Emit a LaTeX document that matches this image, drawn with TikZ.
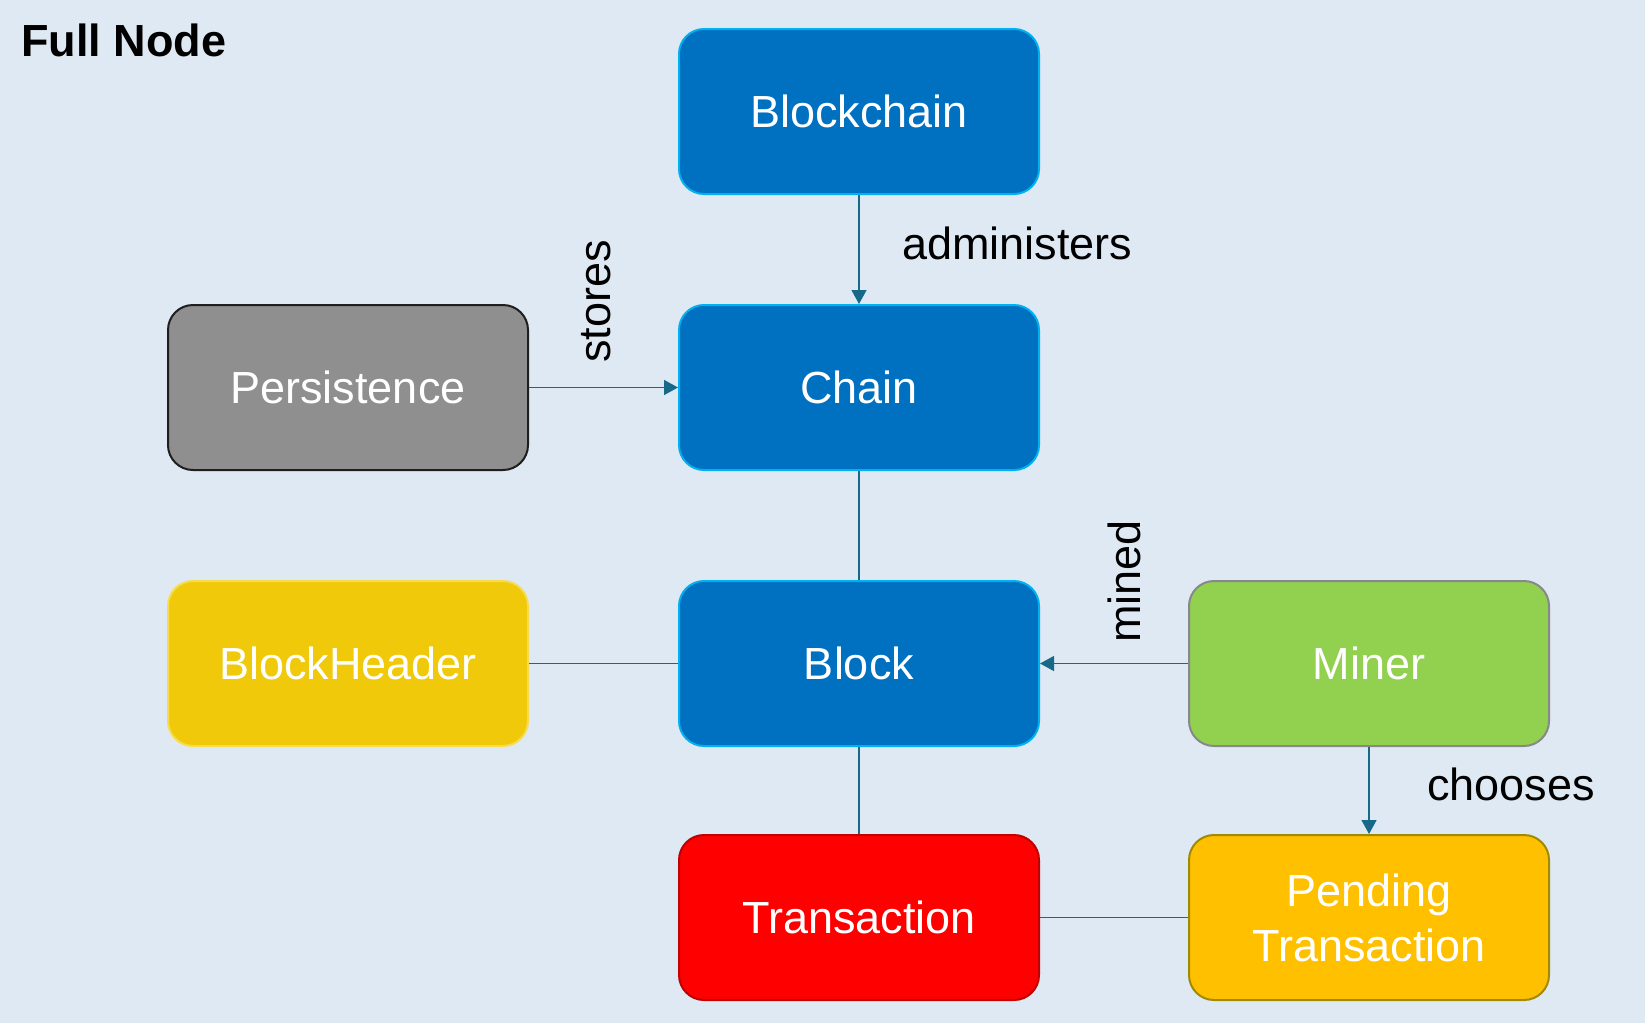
\documentclass[tikz,border=0pt]{standalone}
\usepackage{fontspec}
\setmainfont{Liberation Sans}
\usetikzlibrary{arrows.meta}
\definecolor{bgc}{HTML}{DFE9F3}
\definecolor{bluefill}{HTML}{0070C0}
\definecolor{blueline}{HTML}{00B0F0}
\definecolor{grayfill}{HTML}{8F8F8F}
\definecolor{grayline}{HTML}{1E1E1E}
\definecolor{yelfill}{HTML}{F0CA0A}
\definecolor{yelline}{HTML}{F7DC50}
\definecolor{greenfill}{HTML}{92D050}
\definecolor{greenline}{HTML}{888888}
\definecolor{redfill}{HTML}{FF0000}
\definecolor{redline}{HTML}{C00000}
\definecolor{orfill}{HTML}{FFC000}
\definecolor{orline}{HTML}{A08A00}
\definecolor{conn}{HTML}{17698A}
\tikzset{
  box/.style={rounded corners=25pt, minimum width=360pt, minimum height=165pt,
    inner sep=0pt, line width=2pt, text=white, align=center,
    font=\fontsize{45}{55}\selectfont},
  bluebox/.style={box, fill=bluefill, draw=blueline},
  graybox/.style={box, fill=grayfill, draw=grayline},
  yelbox/.style={box, fill=yelfill, draw=yelline},
  greenbox/.style={box, fill=greenfill, draw=greenline},
  redbox/.style={box, fill=redfill, draw=redline},
  orbox/.style={box, fill=orfill, draw=orline},
  lbl/.style={font=\fontsize{45}{55}\selectfont, text=black, inner sep=0pt},
  link/.style={draw=conn, line width=1.3pt},
  arr/.style={link, -{Triangle[length=14pt,width=15pt]}},
}
\begin{document}
\begin{tikzpicture}[x=1pt,y=-1pt]
\fill[bgc] (0,0) rectangle (1645,1023);
\useasboundingbox (0,0) rectangle (1645,1023);
\node[lbl, anchor=base west, font=\fontsize{45}{55}\selectfont\bfseries] (title) at (21,56) {Full Node};

\node[bluebox] (blockchain) at (859,111.5) {Blockchain};
\node[bluebox] (chain) at (859,387.5) {Chain};
\node[graybox] (persist) at (348,387.5) {Persistence};
\node[yelbox] (header) at (348,663.5) {BlockHeader};
\node[bluebox] (block) at (859,663.5) {Block};
\node[greenbox] (miner) at (1369,663.5) {Miner};
\node[redbox] (tx) at (859,917.5) {Transaction};
\node[orbox] (pending) at (1369,917.5) {Pending\\Transaction};

\draw[arr] (blockchain.south) -- (chain.north);
\draw[arr] (persist.east) -- (chain.west);
\draw[link] (chain.south) -- (block.north);
\draw[link] (header.east) -- (block.west);
\draw[arr] (miner.west) -- (block.east);
\draw[link] (block.south) -- (tx.north);
\draw[arr] (miner.south) -- (pending.north);
\draw[link] (tx.east) -- (pending.west);

\node[lbl, anchor=base west] (adm) at (902,259) {administers};
\node[lbl, anchor=base west, rotate=90] (stores) at (610,363) {stores};
\node[lbl, anchor=base west, rotate=90] (mined) at (1140,643) {mined};
\node[lbl, anchor=base west] (choose) at (1427,800) {chooses};
\end{tikzpicture}
\end{document}
